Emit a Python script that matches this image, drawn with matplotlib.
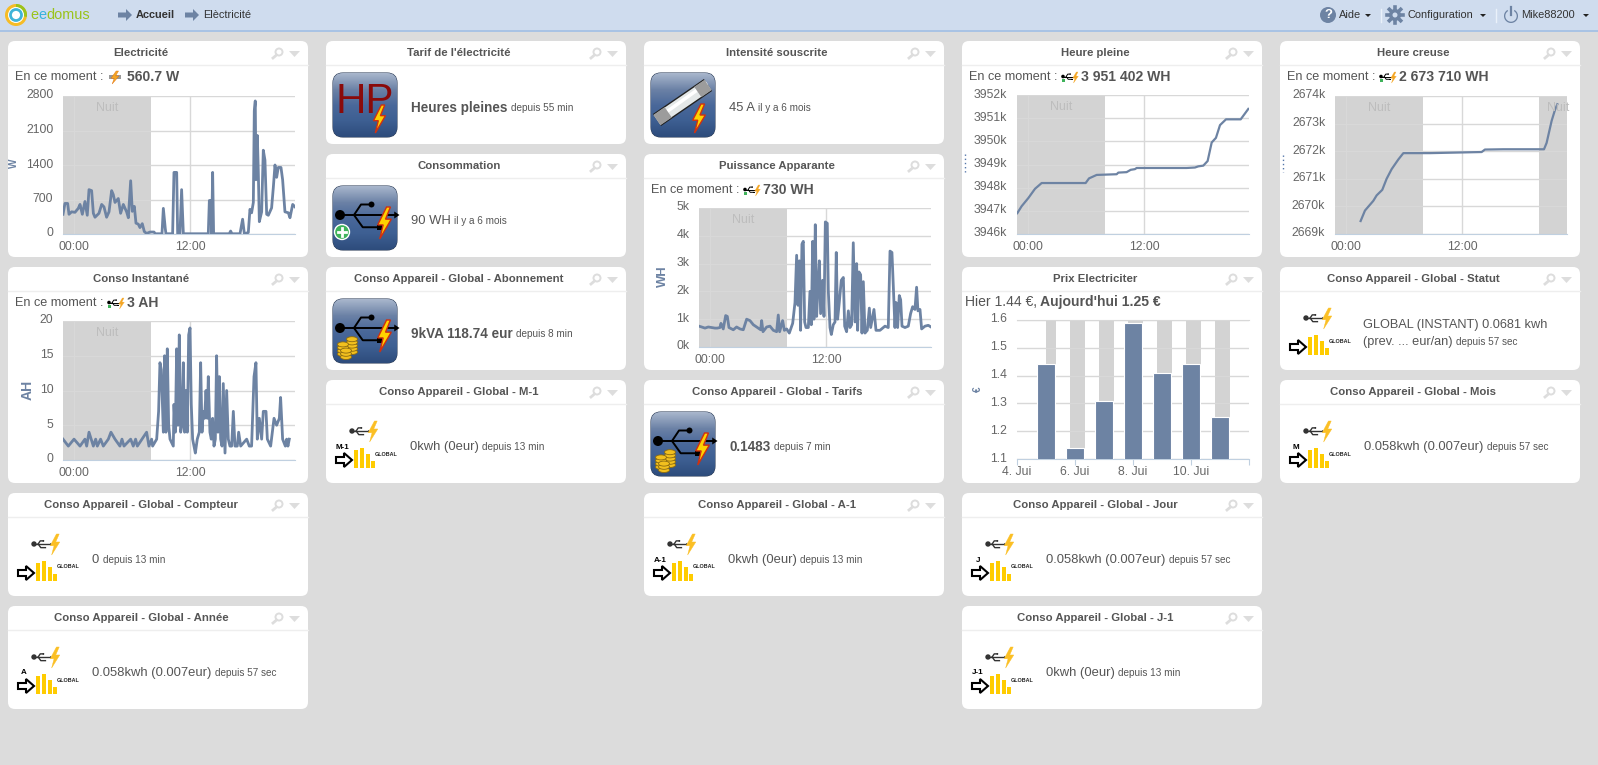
import numpy as np
import matplotlib
matplotlib.use('Agg')
import matplotlib.pyplot as plt
from matplotlib.colors import LinearSegmentedColormap
from matplotlib.patches import FancyBboxPatch, Polygon, Circle, Rectangle, Wedge, Ellipse
from matplotlib.transforms import ScaledTranslation

plt.rcParams['font.family'] = ['Liberation Sans', 'DejaVu Sans']

W, H = 1598, 765
LINE = '#6d83a3'
TXT = '#555555'

# series: hour of day, value
elec_h = [-1.17,-0.97,-0.69,-0.55,-0.28,0.07,0.41,0.59,0.83,1.10,1.34,1.52,1.79,1.97,2.14,2.55,2.83,3.07,3.34,3.59,3.86,4.03,4.21,4.55,4.79,5.07,5.41,5.59,5.83,6.00,6.21,6.38,6.62,6.79,7.03,7.24,7.48,7.83,8.24,8.38,9.07,9.21,9.41,9.48,10.17,10.31,10.59,10.69,10.93,11.10,11.28,13.86,13.97,14.10,14.21,14.31,14.41,16.03,16.17,16.31,17.14,17.41,17.59,18.00,18.17,18.34,18.52,18.62,18.72,18.79,18.93,19.03,19.14,19.38,19.55,19.72,19.90,20.07,20.41,20.59,20.76,20.93,21.10,21.38,21.55,21.79,22.14,22.31,22.59,22.83]
elec_w = [400,620,620,400,450,440,520,600,400,660,380,900,880,420,340,420,600,550,340,450,880,800,640,720,420,600,450,330,1080,460,560,220,200,130,210,50,10,40,40,5,5,520,110,5,5,1250,1250,5,5,900,5,5,680,680,5,1250,5,5,60,5,5,300,5,30,500,430,640,2500,2700,1100,2000,1300,250,450,1700,1500,400,380,530,950,1400,1150,1350,1350,1100,450,430,330,600,550]

conso_h = [-1.17,-0.62,-0.03,0.59,1.10,1.28,1.52,1.97,2.21,2.38,2.72,3.00,3.52,3.79,4.21,4.72,4.93,5.14,5.83,6.10,6.34,6.52,7.48,7.72,8.00,8.10,8.52,8.72,8.86,9.00,9.21,9.34,9.48,9.62,9.76,9.90,10.24,10.31,10.45,10.59,10.72,10.86,11.00,11.14,11.28,11.41,11.55,11.69,11.83,11.97,12.10,12.24,12.38,12.52,12.72,12.93,13.07,13.21,13.34,13.48,13.62,13.76,13.86,14.03,14.17,14.31,14.45,14.59,14.72,14.86,15.00,15.14,15.28,15.41,15.59,15.76,15.93,16.10,16.28,16.45,16.62,16.86,17.00,17.21,17.83,18.10,18.34,18.59,18.79,18.93,19.14,19.38,19.55,19.83,19.97,20.31,20.66,20.93,21.21,21.34,21.55,21.83,21.97,22.10,22.24]
conso_a = [3,2,3,2,3,2,4,2,3,2,3,2,3,4,3,2,3,2,3,2,3,2,4,2,3,2,3,7,14,13,4,15,4,16,5,3,2,8,4,16,5,18,4,5,14,4,10,4,18,19,8,3,2,1,3,4,14,4,7,6,10,6,12,4,3,6,2,3,15,4,12,3,2,11,1,10,3,2,2,7,2,2,4,2,3,2,2,12,14,3,6,3,7,7,3,2,6,5,6,9,3,2,3,2,3]

app_h = [-1.17,-0.90,-0.55,-0.21,0.14,0.48,0.72,1.00,1.10,1.34,1.59,1.76,1.93,2.38,2.72,3.07,3.41,3.76,4.10,4.45,4.79,5.21,5.31,5.45,5.83,6.17,6.52,6.86,7.03,7.17,7.48,7.66,7.90,8.17,8.52,8.76,8.93,9.07,9.21,9.34,9.48,9.62,9.76,9.90,10.14,10.31,10.45,10.59,10.72,10.86,11.00,11.14,11.28,11.41,11.62,11.76,11.90,12.10,12.21,12.38,12.52,12.72,12.90,13.03,13.17,13.34,13.55,13.76,13.90,14.10,14.28,14.45,14.62,14.79,14.97,15.14,15.24,15.38,15.55,15.69,15.83,16.00,16.24,16.45,16.59,16.93,17.14,17.55,18.07,18.41,18.59,18.79,18.93,19.10,19.21,19.38,19.55,19.69,19.83,20.14,20.48,20.72,20.93,21.17,21.34,21.48,21.69,21.86,22.21,22.55,22.83]
app_k = [.75,.72,.68,.72,.70,.68,.68,.70,.85,.65,1.13,1.1,.7,.62,.72,.65,.62,1.0,.95,.8,.72,.62,.95,.55,.72,.75,.6,.55,1.15,.55,.95,.6,.65,.5,.85,1.6,3.3,1.5,3.1,.6,3.7,3.8,.9,.7,.7,2.0,.8,3.8,1.0,4.4,1.1,2.2,3.1,1.2,2.4,1.1,4.5,4.45,2.0,.7,.45,.8,.9,3.4,1.0,1.6,2.4,2.5,.75,.55,1.3,.7,.8,3.75,.9,3.0,.6,2.7,2.6,.5,2.35,.5,.6,1.4,.7,1.35,.6,.6,.75,.7,3.45,3.4,2.2,.7,1.6,.7,1.85,1.7,.75,.7,.75,1.2,1.45,1.35,2.15,1.3,1.35,.65,.75,.78,.72]

pleine_h = [-1.14,-0.69,0,0.69,1.38,5.93,6.28,7.07,9.14,9.31,10.17,10.59,11.03,11.21,16.38,17.24,17.59,18.10,18.55,18.97,19.41,19.83,20.45,21.97,22.76]
pleine_k = [3946.9,3947.2,3947.55,3947.95,3948.2,3948.2,3948.4,3948.55,3948.58,3948.65,3948.67,3948.77,3948.8,3948.85,3948.85,3948.87,3948.92,3948.95,3949.15,3949.95,3950.15,3950.7,3950.95,3950.95,3951.4]

creuse_h = [1.48,1.93,2.79,3.14,3.72,4.17,4.69,5.38,5.90,8.66,14.0,14.34,16.24,20.45,20.72,21.24,21.59,21.83]
creuse_k = [2669.47,2669.85,2670.2,2670.4,2670.6,2671.0,2671.35,2671.7,2671.93,2671.93,2671.97,2672.06,2672.07,2672.07,2672.3,2673.1,2673.5,2673.7]

prix_days = [5, 6, 7, 8, 9, 10, 11]
prix_eur = [1.44, 1.14, 1.31, 1.59, 1.41, 1.44, 1.25]
prix_night_start = [5.0, 5.83, 6.83, 7.83, 8.83, 9.83, 10.83]
prix_night_end = [5.34, 6.34, 7.34, 8.34, 9.34, 10.34, 11.34]

fig = plt.figure(figsize=(W / 100, H / 100), dpi=100, facecolor='#dcdcdc')
bg = fig.add_axes([0, 0, 1, 1])
bg.set_xlim(0, W)
bg.set_ylim(H, 0)
bg.axis('off')


def px(n):
    return n * 0.72


def bolt(x, y, w, h, face='#ffd200', edge='#d03010', lw=0.8, z=7.5):
    pts = [(0.62, 0), (0.1, 0.56), (0.42, 0.56), (0.22, 1), (0.9, 0.38), (0.56, 0.38), (0.85, 0)]
    bg.add_patch(Polygon([(x + a * w, y + b * h) for a, b in pts], fc=face, ec=edge, lw=lw, zorder=z))


def run(x, y, parts):
    # parts = (text, size px, bold, colour) drawn one after the other
    r = fig.canvas.get_renderer()
    for s, size, bold, col in parts:
        t = bg.text(x, y, s, fontsize=px(size), fontweight='bold' if bold else 'normal',
                    color=col, va='center', ha='left', zorder=8)
        x += t.get_window_extent(r).width + 3.5
    return x


def usb(x, y, s=1.0, dot=5, col='black', lw=1.4, z=7):
    # trident, x,y is the dot, s scale
    bg.add_patch(Circle((x, y), dot, fc=col, ec='none', zorder=z))
    bg.plot([x, x + 31 * s], [y, y], color=col, lw=lw, zorder=z)
    bg.plot([x + 8 * s, x + 12 * s, x + 18 * s], [y, y - 6 * s, y - 6 * s], color=col, lw=lw, zorder=z)
    bg.plot([x + 8 * s, x + 13 * s, x + 22 * s], [y, y + 7 * s, y + 7 * s], color=col, lw=lw, zorder=z)
    bg.add_patch(Circle((x + 18 * s, y - 6 * s), 1.7 * s, fc=col, ec='none', zorder=z))
    bg.add_patch(Rectangle((x + 21 * s, y + 5.5 * s), 3 * s, 3 * s, fc=col, ec='none', zorder=z))
    bg.add_patch(Polygon([(x + 31 * s, y - 2 * s), (x + 34 * s, y), (x + 31 * s, y + 2 * s)], fc=col, ec='none', zorder=z))


def coins(cx, y_bottom, n):
    for j in range(n):
        bg.add_patch(Ellipse((cx, y_bottom - j * 3.2), 11, 5, fc='#f2c01e', ec='#8a6a10', lw=0.6, zorder=8))


def big_icon(x, y, kind):
    box = FancyBboxPatch((x, y), 64, 64, boxstyle='round,pad=0,rounding_size=10',
                         fc='#3c5a88', ec='#30405a', lw=0.8, zorder=4)
    bg.add_patch(box)
    cmap = LinearSegmentedColormap.from_list('ic', ['#a8b6cc', '#6c82a6', '#4a689a', '#3d5f92', '#2e4c7c'])
    im = bg.imshow(np.linspace(0, 1, 64).reshape(-1, 1), extent=(x, x + 64, y + 64, y), cmap=cmap,
                   aspect='auto', zorder=4.5)
    im.set_clip_path(box)
    if kind == 'hp':
        bg.text(x + 32, y + 29, 'HP', fontsize=px(42), color='#8a0a0a', ha='center', va='center', zorder=5)
        bolt(x + 39, y + 32, 15, 28, lw=1)
    elif kind == 'fuse':
        x0, y0, x1, y1 = x + 6, y + 47, x + 57, y + 12
        bg.plot([x0, x1], [y0, y1], color='#222222', lw=10.5, solid_capstyle='butt', zorder=5)
        bg.plot([x0, x1], [y0, y1], color='#e4e8e8', lw=8.5, solid_capstyle='butt', zorder=5.2)
        bg.plot([x0 + 1, x1 - 1], [y0 - 2, y1 - 2], color='white', lw=2.5, solid_capstyle='butt', zorder=5.3)
        for a, b in [(0, 0.22), (0.8, 1)]:
            bg.plot([x0 + a * (x1 - x0), x0 + b * (x1 - x0)], [y0 + a * (y1 - y0), y0 + b * (y1 - y0)],
                    color='#9c9c9c', lw=9, solid_capstyle='butt', zorder=5.4)
        bolt(x + 40, y + 31, 16, 29, lw=1)
    else:
        usb(x + 7, y + 29, 1.75)
        bolt(x + 43, y + 21, 17, 32, lw=1)
        if kind == 'plus':
            bg.add_patch(Circle((x + 9, y + 46), 7.5, fc='#3fb25a', ec='white', lw=1, zorder=8))
            bg.plot([x + 5, x + 13], [y + 46, y + 46], color='white', lw=2, zorder=9)
            bg.plot([x + 9, x + 9], [y + 42, y + 50], color='white', lw=2, zorder=9)
        if kind == 'coins':
            coins(x + 19, y + 53, 5)
            coins(x + 10, y + 55, 4)
            coins(x + 13, y + 58, 3)


def global_icon(cx, cy, letter):
    usb(cx + 26, cy + 51, 0.52, dot=2.7, col='#333333', lw=1.0)
    bolt(cx + 41, cy + 41, 12, 21, face='#fbbf24', edge='#fbbf24', lw=0.3)
    arrow = [(10, 77), (18, 77), (18, 73), (26, 80), (18, 87), (18, 83), (10, 83)]
    bg.add_patch(Polygon([(cx + a, cy + b) for a, b in arrow], fc='white', ec='black', lw=1.5, zorder=6))
    for bx, top in [(28, 70), (34, 68), (39.5, 74), (45, 81)]:
        bg.add_patch(Rectangle((cx + bx, cy + top), 4, 88 - top, fc='#ffcc00', ec='none', zorder=6))
    bg.text(cx + 49, cy + 74, 'GLOBAL', fontsize=px(5.4), fontweight='bold', color='#222222', va='center', zorder=7)
    if letter:
        bg.text(cx + 16, cy + 67, letter, fontsize=px(8), fontweight='bold', color='black', ha='center',
                va='center', zorder=7)


def card(x, y, h, title):
    bg.add_patch(FancyBboxPatch((x, y), 300, h, boxstyle='round,pad=0,rounding_size=7', fc='white', ec='none', zorder=1))
    bg.plot([x, x + 300], [y + 24, y + 24], color='#eeeeee', lw=1, zorder=2)
    bg.text(x + 133, y + 12, title, fontsize=px(11.4), fontweight='bold', color=TXT, ha='center', va='center', zorder=3)
    # magnifier and menu arrow
    bg.add_patch(Circle((x + 271, y + 11), 3.5, fc='white', ec='#dddddd', lw=1.4, zorder=3))
    bg.plot([x + 268.5, x + 265], [y + 14, y + 17], color='#dddddd', lw=2, zorder=3)
    bg.add_patch(Polygon([(x + 281, y + 10), (x + 292, y + 10), (x + 286.5, y + 16)], fc='#dddddd', ec='none', zorder=3))


def chart(cx, cy, top=54, bottom=193):
    l, r = cx + 55, cx + 287
    ax = fig.add_axes([l / W, 1 - (cy + bottom) / H, (r - l) / W, (bottom - top) / H])
    ax.patch.set_alpha(0)
    for s in ['top', 'left', 'right']:
        ax.spines[s].set_visible(False)
    ax.spines['bottom'].set_color('#c0d0e0')
    ax.grid(True, color='#d8d8d8', lw=1)
    ax.tick_params(length=0, labelsize=px(12.2), labelcolor='#666666', pad=7)
    ax.tick_params(axis='x', pad=5)
    return ax


def shift_labels(ax):
    off = ScaledTranslation(0, 2 / 100, fig.dpi_scale_trans)
    for lab in ax.get_yticklabels():
        lab.set_transform(lab.get_transform() + off)


def finish_hours(ax, hours, vals, yticks, ylabels, lw, nights=((-1.17, 7.9),), nuit_x=(3.45,)):
    ax.plot(hours, vals, color=LINE, lw=lw, solid_joinstyle='round', zorder=3)
    for a, b in nights:
        ax.axvspan(a, b, color='#d3d3d3', lw=0, zorder=1)
    ax.set_xlim(-1.17, 22.83)
    ax.set_ylim(yticks[0], yticks[-1])
    ax.set_xticks([0, 12])
    ax.set_xticklabels(['00:00', '12:00'])
    ax.set_yticks(yticks)
    ax.set_yticklabels(ylabels)
    shift_labels(ax)
    tr = ax.get_xaxis_transform()
    for nx_ in nuit_x:
        ax.text(nx_, 0.915, 'Nuit', transform=tr, fontsize=px(12.5), color='#bdbdbd', ha='center', va='center', zorder=4)


def moment(cx, cy, value, icon=True):
    run(cx + 7, cy + 36, [('En ce moment :', 12.6, False, TXT)])
    value_x = cx + 119
    if icon:
        usb(value_x - 18, cy + 35.5, 0.4, dot=1.8, col='black', lw=0.7)
        bg.add_patch(Rectangle((value_x - 19.5, cy + 38), 3, 3, fc='#3fb25a', ec='none', zorder=8))
        bolt(value_x - 9, cy + 31, 7, 11, face='#f5a623', edge='#f5a623', lw=0.2, z=8)
    else:
        bg.add_patch(Rectangle((value_x - 18, cy + 34), 12, 4, fc='#999999', ec='none', zorder=7))
        bolt(value_x - 17, cy + 30, 10, 13, face='#f5a623', edge='#e07010', lw=0.3, z=8)
    run(value_x, cy + 36, [(value, 14, True, TXT)])


def side_label(cx, y, s, size):
    bg.text(cx, y, s, fontsize=px(size), fontweight='bold', color=LINE, rotation=90, ha='center', va='center', zorder=3)


# top bar
bg.add_patch(Rectangle((0, 0), W, 30, fc='#cfdcee', ec='none', zorder=1))
bg.plot([0, W], [30.5, 30.5], color='#9fbfe6', lw=1.2, zorder=2)
bg.add_patch(Circle((16, 15), 11, fc='#f6bc26', ec='none', zorder=3))
bg.add_patch(Wedge((16, 15), 11, -90, 10, fc='#9ac31c', ec='none', zorder=3.2))
bg.add_patch(Circle((16, 15), 8, fc='white', ec='none', zorder=3.5))
bg.add_patch(Circle((16, 15), 5.5, fc='white', ec='#3fb4d8', lw=2, zorder=3.6))
ex = 30.5
for s, c in [('e', '#9ac31c'), ('e', '#39b3dc'), ('domus', '#9ac31c')]:
    t = bg.text(ex, 15, s, fontsize=px(14.5), color=c, va='center', zorder=4)
    ex += t.get_window_extent(fig.canvas.get_renderer()).width
for ax0 in [118, 185]:
    arrow = [(0, -2.5), (8, -2.5), (8, -6), (14, 0), (8, 6), (8, 2.5), (0, 2.5)]
    bg.add_patch(Polygon([(ax0 + a, 15 + b) for a, b in arrow], fc=LINE, ec='none', zorder=4))
bg.text(136, 15, 'Accueil', fontsize=px(11), fontweight='bold', color='#333333', va='center', zorder=4)
bg.text(203, 15, 'Elèctricité', fontsize=px(11), color='#333333', va='center', zorder=4)
# right hand menu
bg.add_patch(Circle((1328, 15), 8, fc=LINE, ec='none', zorder=4))
bg.text(1328, 15, '?', fontsize=px(13), fontweight='bold', color='white', ha='center', va='center', zorder=5)
bg.text(1339, 15, 'Aide', fontsize=px(11), color='#333333', va='center', zorder=4)
bg.add_patch(Circle((1395, 15), 6, fc=LINE, ec='none', zorder=4))
for ang in np.arange(0, 360, 45):
    bg.plot([1395, 1395 + 8 * np.cos(np.radians(ang))], [15, 15 + 8 * np.sin(np.radians(ang))], color=LINE, lw=2.6, zorder=4)
bg.add_patch(Circle((1395, 15), 2.5, fc='#cfdcee', ec='none', zorder=5))
bg.text(1407, 15, 'Configuration', fontsize=px(11), color='#333333', va='center', zorder=4)
bg.add_patch(Wedge((1511, 16), 7, -60, 240, width=1.3, fc=LINE, ec='none', zorder=4))
bg.plot([1511, 1511], [7, 15], color=LINE, lw=1.6, zorder=4)
bg.text(1521, 15, 'Mike88200', fontsize=px(11), color='#333333', va='center', zorder=4)
for cx_ in [1368, 1483, 1586]:
    bg.add_patch(Polygon([(cx_ - 3, 14), (cx_ + 3, 14), (cx_, 17)], fc='#222222', ec='none', zorder=4))
for sx in [1381, 1496]:
    bg.plot([sx, sx], [9, 22], color='#eaf1fa', lw=1, zorder=4)

cols = [8, 326, 644, 962, 1280]
rows = [41, 154, 267, 380, 493, 606]
SMALL = 103
BIG = 216

# simple cards with an icon and a text
big_cards = [
    (1, 0, "Tarif de l'électricité", 'hp', [('Heures pleines', 13.5, True, TXT), ('depuis 55 min', 10, False, TXT)]),
    (1, 1, 'Consommation', 'plus', [('90 WH', 13, False, TXT), ('il y a 6 mois', 10, False, TXT)]),
    (1, 2, 'Conso Appareil - Global - Abonnement', 'coins', [('9kVA 118.74 eur', 13.5, True, TXT), ('depuis 8 min', 10, False, TXT)]),
    (2, 0, 'Intensité souscrite', 'fuse', [('45 A', 13, False, TXT), ('il y a 6 mois', 10, False, TXT)]),
    (2, 3, 'Conso Appareil - Global - Tarifs', 'coins', [('0.1483', 13.5, True, TXT), ('depuis 7 min', 10, False, TXT)]),
]
for c, r, title, kind, parts in big_cards:
    card(cols[c], rows[r], SMALL, title)
    big_icon(cols[c] + 7, rows[r] + 32, kind)
    run(cols[c] + 85, rows[r] + 67, parts)

global_cards = [
    (0, 4, 'Conso Appareil - Global - Compteur', '', '0', 'depuis 13 min'),
    (0, 5, 'Conso Appareil - Global - Année', 'A', '0.058kwh (0.007eur)', 'depuis 57 sec'),
    (1, 3, 'Conso Appareil - Global - M-1', 'M-1', '0kwh (0eur)', 'depuis 13 min'),
    (2, 4, 'Conso Appareil - Global - A-1', 'A-1', '0kwh (0eur)', 'depuis 13 min'),
    (3, 4, 'Conso Appareil - Global - Jour', 'J', '0.058kwh (0.007eur)', 'depuis 57 sec'),
    (3, 5, 'Conso Appareil - Global - J-1', 'J-1', '0kwh (0eur)', 'depuis 13 min'),
    (4, 3, 'Conso Appareil - Global - Mois', 'M', '0.058kwh (0.007eur)', 'depuis 57 sec'),
]
for c, r, title, letter, val, since in global_cards:
    card(cols[c], rows[r], SMALL, title)
    global_icon(cols[c], rows[r], letter)
    run(cols[c] + 84, rows[r] + 67, [(val, 13, False, TXT), (since, 10, False, TXT)])

card(cols[4], rows[2], SMALL, 'Conso Appareil - Global - Statut')
global_icon(cols[4], rows[2], '')
run(cols[4] + 83, rows[2] + 58, [('GLOBAL (INSTANT) 0.0681 kwh', 12.7, False, TXT)])
run(cols[4] + 83, rows[2] + 75, [('(prev. ... eur/an)', 12.7, False, TXT), ('depuis 57 sec', 10, False, TXT)])

# line charts
card(cols[0], rows[0], BIG, 'Electricité')
moment(cols[0], rows[0], '560.7 W', icon=False)
ax = chart(cols[0], rows[0], 55, 193)
finish_hours(ax, elec_h, elec_w, [0, 700, 1400, 2100, 2800], ['0', '700', '1400', '2100', '2800'], 2.0)
side_label(cols[0] + 6, rows[0] + 122, 'W', 10)

card(cols[0], rows[2], BIG, 'Conso Instantané')
moment(cols[0], rows[2], '3 AH')
ax = chart(cols[0], rows[2])
finish_hours(ax, conso_h, conso_a, [0, 5, 10, 15, 20], ['0', '5', '10', '15', '20'], 2.0)
side_label(cols[0] + 20, rows[2] + 123, 'AH', 14)

card(cols[2], rows[1], BIG, 'Puissance Apparante')
moment(cols[2], rows[1], '730 WH')
ax = chart(cols[2], rows[1])
finish_hours(ax, app_h, app_k, [0, 1, 2, 3, 4, 5], ['0k', '1k', '2k', '3k', '4k', '5k'], 2.0)
side_label(cols[2] + 19, rows[1] + 122, 'WH', 13)

card(cols[3], rows[0], BIG, 'Heure pleine')
moment(cols[3], rows[0], '3 951 402 WH')
ax = chart(cols[3], rows[0], 54, 193)
ticks = [3946, 3947, 3948, 3949, 3950, 3951, 3952]
finish_hours(ax, pleine_h, pleine_k, ticks, [f'{t}k' for t in ticks], 1.6)
bg.plot([cols[3] + 2.5] * 2, [rows[0] + 113, rows[0] + 131], color='#5577aa', lw=1, ls=(0, (1, 2)), zorder=3)

card(cols[4], rows[0], BIG, 'Heure creuse')
moment(cols[4], rows[0], '2 673 710 WH')
ax = chart(cols[4], rows[0], 55, 193)
ticks = [2669, 2670, 2671, 2672, 2673, 2674]
finish_hours(ax, creuse_h, creuse_k, ticks, [f'{t}k' for t in ticks], 1.6,
             nights=((-1.17, 7.9), (19.93, 22.83)), nuit_x=(3.45, 21.9))
bg.plot([cols[4] + 2.5] * 2, [rows[0] + 114, rows[0] + 131], color='#5577aa', lw=1, ls=(0, (1, 2)), zorder=3)

# price bars
card(cols[3], rows[2], BIG, 'Prix Electriciter')
run(cols[3] + 3, rows[2] + 35, [('Hier 1.44 €,', 14, False, TXT), ("Aujourd'hui 1.25 €", 14, True, TXT)])
ax = chart(cols[3], rows[2], 53, 192)
for a, b in zip(prix_night_start, prix_night_end):
    ax.axvspan(a, b, color='#d3d3d3', lw=0, zorder=1)
ax.bar(prix_days, prix_eur, width=0.62, color=LINE, edgecolor='white', lw=0.8, zorder=3)
ax.set_xlim(4, 12)
ax.set_ylim(1.1, 1.6)
ax.grid(False, axis='x')
ax.set_xticks([4, 6, 8, 10, 12])
ax.set_xticklabels(['4. Jui', '6. Jui', '8. Jui', '10. Jui', ''])
ax.tick_params(axis='x', length=4, color='#c0d0e0', pad=1)
ax.set_yticks([1.1, 1.2, 1.3, 1.4, 1.5, 1.6])
ax.set_yticklabels(['1.1', '1.2', '1.3', '1.4', '1.5', '1.6'])
shift_labels(ax)
ax.spines['top'].set_visible(True)
ax.spines['top'].set_color('#d8d8d8')
side_label(cols[3] + 16, rows[2] + 122, '€', 10)

bg.set_xlim(0, W)
bg.set_ylim(H, 0)
fig.savefig('out.png', dpi=100, facecolor=fig.get_facecolor())
